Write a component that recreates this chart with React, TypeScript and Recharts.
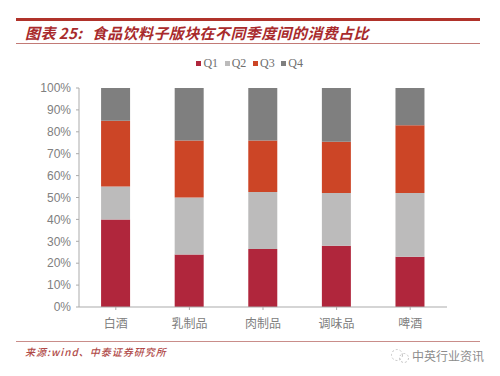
import React from "react";
import { BarChart, Bar, XAxis, YAxis, Legend } from "recharts";

const categories = ["白酒", "乳制品", "肉制品", "调味品", "啤酒"];
const q1 = [40, 24, 26.5, 28, 23];
const q2 = [15, 26, 26, 24, 29];
const q3 = [30, 26, 23.5, 23.5, 31];
const q4 = [15, 24, 24, 24.5, 17];
const yTicks = [0, 10, 20, 30, 40, 50, 60, 70, 80, 90, 100];

const data = categories.map((name, i) => ({ name, Q1: q1[i], Q2: q2[i], Q3: q3[i], Q4: q4[i] }));

const cjk = '"Noto Sans CJK SC", sans-serif';
const axisLine = { stroke: "#ababab", strokeWidth: 1 };

const LegendContent = (props: any) => (
  <div style={{ display: "flex", justifyContent: "center", height: 15, alignItems: "center", paddingLeft: 6 }}>
    {(props.payload || []).map((p: any) => (
      <div key={p.value} style={{ display: "flex", alignItems: "center", width: 28.3 }}>
        <span style={{ display: "inline-block", width: 5, height: 5, background: p.color, marginRight: 2 }} />
        <span style={{ color: "#6f6f6f", fontSize: 12, fontFamily: '"Liberation Serif", serif' }}>{p.value}</span>
      </div>
    ))}
  </div>
);

export default function App() {
  return (
    <div style={{ position: "absolute", left: 0, top: 0, width: 500, height: 376, background: "#fff", overflow: "hidden" }}>
      <div style={{ position: "absolute", left: 16, top: 18, width: 464, height: 3, background: "#b0322a" }} />
      <div style={{ position: "absolute", left: 25, top: 22, fontFamily: cjk, fontStyle: "italic", fontWeight: 700, fontSize: 15, lineHeight: "22px", color: "#a82a2c", whiteSpace: "nowrap", letterSpacing: 0.4, wordSpacing: -0.75 }}>
        图表 25:&nbsp;&nbsp;&nbsp;食品饮料子版块在不同季度间的消费占比
      </div>
      <div style={{ position: "absolute", left: 16, top: 43, width: 464, height: 1, background: "#c27a76" }} />
      <div style={{ position: "absolute", left: 0, top: 0 }}>
        <BarChart
          width={500}
          height={376}
          data={data}
          barCategoryGap="30%"
          margin={{ top: 73, right: 53, bottom: 39, left: 29 }}
        >
          <Legend
            verticalAlign="top"
            align="center"
            height={15}
            content={<LegendContent />}
            wrapperStyle={{ position: "absolute", top: 56, left: 0, width: 500 }}
          />
          <XAxis
            dataKey="name"
            height={30}
            tickSize={3}
            tickMargin={9}
            axisLine={axisLine}
            tickLine={axisLine}
            interval={0}
            tick={{ fill: "#808080", fontSize: 12, fontFamily: cjk }}
          />
          <YAxis
            width={50}
            domain={[0, 100]}
            ticks={yTicks}
            tickFormatter={(v: number) => `${v}%`}
            tickSize={3}
            tickMargin={5}
            interval={0}
            axisLine={axisLine}
            tickLine={axisLine}
            tick={{ fill: "#808080", fontSize: 12, fontFamily: '"Liberation Sans", sans-serif' }}
          />
          <Bar dataKey="Q1" stackId="a" fill="#b0263c" isAnimationActive={false} />
          <Bar dataKey="Q2" stackId="a" fill="#bcbbbb" isAnimationActive={false} />
          <Bar dataKey="Q3" stackId="a" fill="#cc4526" isAnimationActive={false} />
          <Bar dataKey="Q4" stackId="a" fill="#7f7f7f" isAnimationActive={false} />
        </BarChart>
      </div>
      <div style={{ position: "absolute", left: 16, top: 341, width: 464, height: 1, background: "#c98d8a" }} />
      <div style={{ position: "absolute", left: 25, top: 344, fontFamily: cjk, fontStyle: "italic", fontSize: 10, lineHeight: "16px", fontWeight: 500, color: "#b04a48", whiteSpace: "nowrap", letterSpacing: 1 }}>
        来源:wind、中泰证券研究所
      </div>
      <svg width={22} height={18} style={{ position: "absolute", left: 389, top: 347 }}>
        <circle cx={8} cy={8} r={5.5} fill="none" stroke="#c4c4c4" strokeDasharray="2 2" />
        <circle cx={15} cy={11} r={4.5} fill="none" stroke="#c4c4c4" strokeDasharray="2 2" />
      </svg>
      <div style={{ position: "absolute", left: 412, top: 346, fontFamily: cjk, fontSize: 12, lineHeight: "20px", color: "#8c8c8c", whiteSpace: "nowrap" }}>
        中英行业资讯
      </div>
    </div>
  );
}
